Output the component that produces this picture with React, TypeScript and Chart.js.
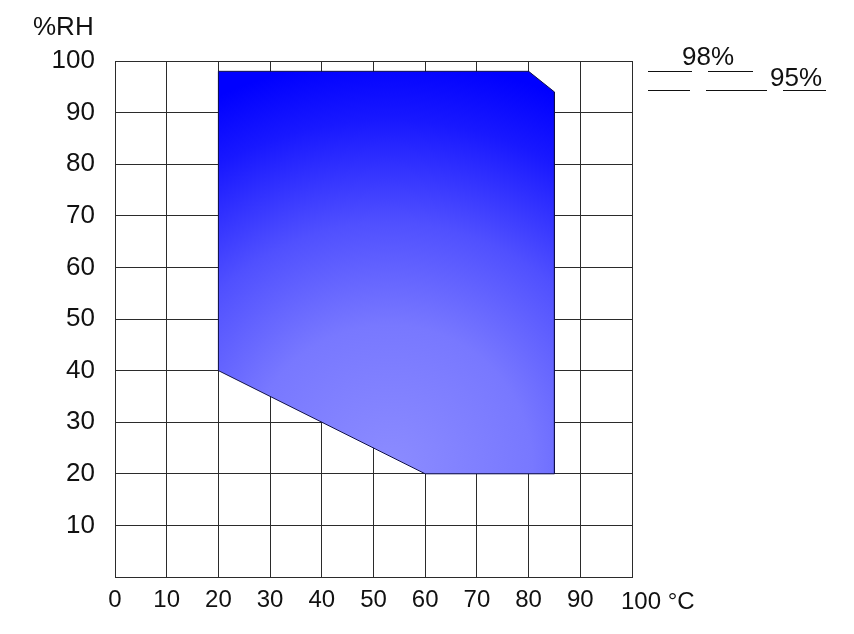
import { useEffect, useRef } from "react";
import { Chart, registerables } from "chart.js";

Chart.register(...registerables);

// humidity / temperature envelope (°C, %RH), closed back to the start
const tempPoints = [20, 20, 80, 85, 85, 60, 20];
const rhPoints = [40, 98, 98, 94, 20, 20, 40];
const xTicks = [0, 10, 20, 30, 40, 50, 60, 70, 80, 90, 100];
const yTicks = [0, 10, 20, 30, 40, 50, 60, 70, 80, 90, 100];
const rhLabels = ["98%", "95%"];

const FONT = "'Liberation Sans', Arial, sans-serif";
const GRID = "#2b2b2b";

const annotations = {
  id: "annotations",
  afterDraw(chart: Chart) {
    const ctx = chart.ctx;
    ctx.save();
    ctx.fillStyle = "#111";
    ctx.font = `26px ${FONT}`;
    ctx.textBaseline = "alphabetic";
    ctx.textAlign = "left";
    ctx.fillText("%RH", 33, 35);
    ctx.fillText(rhLabels[0], 682, 65);
    ctx.fillText(rhLabels[1], 770, 86);
    // last x label carries the unit
    ctx.font = `24px ${FONT}`;
    ctx.fillText("100 °C", 621, 609);
    ctx.strokeStyle = "#111";
    ctx.lineWidth = 1;
    const segs: [number, number, number][] = [
      [648, 692, 71.5],
      [708, 753, 71.5],
      [648, 690, 90.5],
      [706, 767, 90.5],
      [783, 826, 90.5],
    ];
    segs.forEach(([a, b, y]) => {
      ctx.beginPath();
      ctx.moveTo(a, y);
      ctx.lineTo(b, y);
      ctx.stroke();
    });
    ctx.restore();
  },
};

export default function App() {
  const canvasRef = useRef<HTMLCanvasElement>(null);
  const chartRef = useRef<Chart | null>(null);

  useEffect(() => {
    document.body.style.margin = "0";
    if (!canvasRef.current) return;
    chartRef.current?.destroy();

    const data = tempPoints.map((x, i) => ({ x, y: rhPoints[i] }));

    chartRef.current = new Chart(canvasRef.current, {
      type: "scatter",
      data: {
        datasets: [
          {
            data,
            showLine: true,
            fill: "shape",
            tension: 0,
            pointRadius: 0,
            borderColor: "#10104a",
            borderWidth: 1,
            backgroundColor: (c: any) => {
              const chart = c.chart;
              const area = chart.chartArea;
              if (!area) return "#4040ff";
              const xs = chart.scales.x;
              const ys = chart.scales.y;
              const cx = xs.getPixelForValue(53);
              const cy = ys.getPixelForValue(21);
              const g = chart.ctx.createRadialGradient(cx, cy, 0, cx, cy, 410);
              g.addColorStop(0, "#8c8cff");
              g.addColorStop(0.35, "#7878ff");
              g.addColorStop(0.6, "#5050ff");
              g.addColorStop(0.85, "#1818ff");
              g.addColorStop(1, "#0000ff");
              return g;
            },
          },
        ],
      },
      options: {
        animation: false,
        responsive: true,
        maintainAspectRatio: false,
        layout: { padding: { top: 61, right: 222, left: 0, bottom: 0 } },
        plugins: {
          legend: { display: false },
          tooltip: { enabled: false },
        },
        scales: {
          x: {
            type: "linear",
            min: 0,
            max: 100,
            afterFit: (s: any) => {
              s.height = 57;
            },
            afterBuildTicks: (s: any) => {
              s.ticks = xTicks.map((v) => ({ value: v }));
            },
            grid: { color: GRID, lineWidth: 1, drawTicks: false },
            border: { display: true, color: GRID },
            ticks: {
              padding: 9,
              color: "#111",
              font: { family: FONT, size: 24 },
              maxRotation: 0,
              autoSkip: false,
              callback: (v: any) => (v === 100 ? "" : String(v)),
            },
          },
          y: {
            type: "linear",
            min: 0,
            max: 100,
            afterFit: (s: any) => {
              s.width = 115;
            },
            afterBuildTicks: (s: any) => {
              s.ticks = yTicks.map((v) => ({ value: v }));
            },
            grid: { color: GRID, lineWidth: 1, drawTicks: false },
            border: { display: true, color: GRID },
            ticks: {
              padding: 20,
              color: "#111",
              font: { family: FONT, size: 26 },
              autoSkip: false,
              callback: (v: any) => (v === 0 ? "" : String(v)),
            },
          },
        },
      },
      plugins: [annotations],
    });

    return () => {
      chartRef.current?.destroy();
      chartRef.current = null;
    };
  }, []);

  return (
    <div style={{ width: 854, height: 634, position: "relative", background: "#fff" }}>
      <canvas ref={canvasRef} />
    </div>
  );
}
